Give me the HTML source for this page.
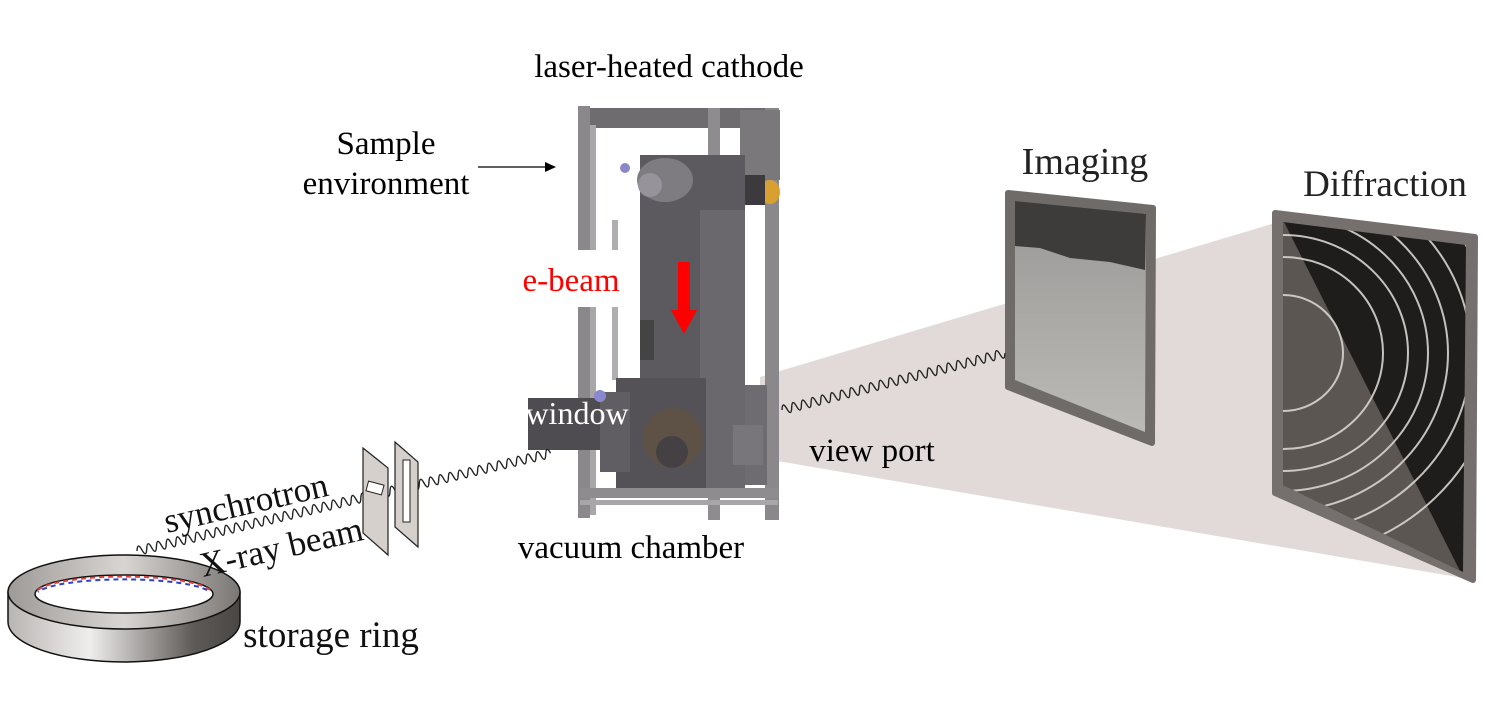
<!DOCTYPE html>
<html><head><meta charset="utf-8"><style>
html,body{margin:0;padding:0;background:#fff;}
svg{display:block;}
text{font-family:"Liberation Serif",serif;}
</style></head><body>
<svg width="1486" height="726" viewBox="0 0 1486 726" xmlns="http://www.w3.org/2000/svg">
<defs>
<linearGradient id="ringside" x1="0" x2="1">
<stop offset="0" stop-color="#b8b4b2"/><stop offset="0.35" stop-color="#f0eeed"/><stop offset="0.8" stop-color="#5e5a58"/><stop offset="1" stop-color="#4a4644"/>
</linearGradient>
<linearGradient id="ringtop" x1="0" x2="1">
<stop offset="0" stop-color="#9e9a98"/><stop offset="0.5" stop-color="#d8d5d3"/><stop offset="1" stop-color="#7a7674"/>
</linearGradient>
<linearGradient id="img" x1="0" y1="0" x2="0" y2="1">
<stop offset="0" stop-color="#9a9896"/><stop offset="1" stop-color="#bcbab6"/>
</linearGradient>
<clipPath id="dclip"><polygon points="1283,222 1466,245 1463,572 1283,485"/></clipPath>
</defs>

<!-- cone -->
<polygon points="760,377 1275,223 1463,578 760,458" fill="#ddd4d2" opacity="0.85"/>

<!-- imaging plate -->
<polygon points="1008,193 1153,208 1152,443 1008,387" fill="#6f6b69" stroke="#6f6b69" stroke-width="6" stroke-linejoin="round"/>
<polygon points="1015,201 1146,214 1145,432 1015,380" fill="url(#img)"/>
<polygon points="1015,201 1146,214 1145,270 1110,262 1070,258 1040,248 1015,246" fill="#3e3c3a"/>

<!-- diffraction plate -->
<polygon points="1275,213 1475,237 1473,580 1275,493" fill="#75706e" stroke="#75706e" stroke-width="6" stroke-linejoin="round"/>
<polygon points="1283,222 1466,245 1463,572 1283,485" fill="#1e1d1b"/>
<g clip-path="url(#dclip)">
<polygon points="1283,220 1463,577 1283,577" fill="#5c5652"/>
<g fill="none" stroke="#d8d4d0" stroke-width="2" opacity="0.9">
<ellipse cx="1283" cy="353" rx="60" ry="58"/>
<ellipse cx="1283" cy="353" rx="100" ry="96"/>
<ellipse cx="1283" cy="353" rx="125" ry="118"/>
<ellipse cx="1283" cy="353" rx="145" ry="138"/>
<ellipse cx="1283" cy="353" rx="165" ry="158"/>
<ellipse cx="1283" cy="353" rx="188" ry="180"/>
<ellipse cx="1283" cy="353" rx="215" ry="205"/>
</g>
</g>

<!-- machine -->
<g>
<rect x="578" y="108" width="200" height="20" fill="#6e6c6e"/>
<rect x="578" y="106" width="12" height="412" fill="#8a888a"/>
<rect x="590" y="125" width="6" height="390" fill="#a8a6a8"/>
<rect x="708" y="108" width="12" height="412" fill="#8e8c8e"/>
<rect x="765" y="108" width="14" height="412" fill="#8a888a"/>
<rect x="740" y="110" width="40" height="70" fill="#7a787a"/>
<rect x="640" y="155" width="105" height="340" fill="#5c5a5e"/>
<rect x="700" y="210" width="45" height="285" fill="#6a686c"/>
<ellipse cx="665" cy="180" rx="28" ry="22" fill="#7e7c80"/>
<ellipse cx="650" cy="185" rx="12" ry="12" fill="#96949a"/>
<circle cx="625" cy="168" r="5" fill="#8a88c8"/>
<ellipse cx="770" cy="192" rx="10" ry="12" fill="#d8a030"/>
<rect x="745" y="175" width="20" height="30" fill="#3c3a3c"/>
<rect x="612" y="220" width="6" height="160" fill="#b0aeb0"/>
<rect x="640" y="320" width="14" height="40" fill="#444"/>
<rect x="616" y="378" width="90" height="115" fill="#545256"/>
<rect x="745" y="385" width="22" height="100" fill="#6e6c70"/>
<rect x="733" y="425" width="30" height="40" fill="#78767a"/>
<rect x="528" y="398" width="80" height="52" fill="#4e4c50"/>
<rect x="600" y="392" width="30" height="80" fill="#605e62"/>
<circle cx="600" cy="396" r="6" fill="#8a88d0"/>
<circle cx="673" cy="438" r="30" fill="#5e5246"/>
<circle cx="672" cy="452" r="16" fill="#454044"/>
<rect x="580" y="488" width="198" height="10" fill="#8e8c8e"/>
<rect x="580" y="500" width="198" height="5" fill="#a8a6a8"/>
</g>

<!-- e-beam -->
<rect x="503" y="250" width="134" height="57" fill="#fff"/>
<text x="571" y="291" font-size="33" fill="#f00" text-anchor="middle">e-beam</text>
<rect x="678" y="262" width="12" height="50" fill="#f00"/>
<polygon points="671,310 697,310 684,334" fill="#f00"/>

<!-- waves -->
<g transform="translate(137,551) rotate(-13.3)" fill="none" stroke="#222" stroke-width="1.4">
<path d="M0 0 q2.5 -9 5 0 t5 0 t5 0 t5 0 t5 0 t5 0 t5 0 t5 0 t5 0 t5 0 t5 0 t5 0 t5 0 t5 0 t5 0 t5 0 t5 0 t5 0 t5 0 t5 0 t5 0 t5 0 t5 0 t5 0 t5 0 t5 0 t5 0 t5 0 t5 0 t5 0 t5 0 t5 0 t5 0 t5 0 t5 0 t5 0 t5 0 t5 0 t5 0 t5 0 t5 0 t5 0 t5 0 t5 0 t5 0 t5 0 t5 0 t5 0 t5 0 t5 0 t5 0 t5 0 t5 0 t5 0 t5 0 t5 0 t5 0 t5 0 t5 0 t5 0 t5 0 t5 0 t5 0 t5 0 t5 0 t5 0 t5 0 t5 0 t5 0 t5 0 t5 0 t5 0 t5 0 t5 0 t5 0 t5 0 t5 0 t5 0 t5 0 t5 0 t5 0 t5 0 t5 0 t5 0 t5 0"/>
</g>
<g transform="translate(782,410) rotate(-14.3)" fill="none" stroke="#222" stroke-width="1.4">
<path d="M0 0 q2.5 -9 5 0 t5 0 t5 0 t5 0 t5 0 t5 0 t5 0 t5 0 t5 0 t5 0 t5 0 t5 0 t5 0 t5 0 t5 0 t5 0 t5 0 t5 0 t5 0 t5 0 t5 0 t5 0 t5 0 t5 0 t5 0 t5 0 t5 0 t5 0 t5 0 t5 0 t5 0 t5 0 t5 0 t5 0 t5 0 t5 0 t5 0 t5 0 t5 0 t5 0 t5 0 t5 0 t5 0 t5 0 t5 0 t5 0"/>
</g>

<!-- slits -->
<polygon points="363,448 388,468 388,555 363,533" fill="#d6d0cc" stroke="#222" stroke-width="1.2"/>
<rect x="367" y="483" width="16" height="10" fill="#fff" stroke="#222" stroke-width="1" transform="rotate(15 375 488)"/>
<polygon points="395,442 418,462 418,547 395,527" fill="#d6d0cc" stroke="#222" stroke-width="1.2"/>
<rect x="403" y="460" width="7" height="62" fill="#fff" stroke="#222" stroke-width="1"/>

<!-- storage ring -->
<path d="M8 592 L8 622 A116 40 0 0 0 240 622 L240 592 Z" fill="url(#ringside)" stroke="#111" stroke-width="1.5"/>
<ellipse cx="124" cy="592" rx="116" ry="37" fill="url(#ringtop)" stroke="#111" stroke-width="1.5"/>
<ellipse cx="124" cy="594" rx="89" ry="19" fill="#fff" stroke="#111" stroke-width="1.5"/>
<path d="M38 590 A88 17 0 0 1 210 590" fill="none" stroke="#e04040" stroke-width="2" stroke-dasharray="5 4"/>
<path d="M38 592 A88 16 0 0 1 210 592" fill="none" stroke="#3040c0" stroke-width="2" stroke-dasharray="5 4" stroke-dashoffset="4"/>

<!-- labels -->
<text x="669" y="77" font-size="33" text-anchor="middle">laser-heated cathode</text>
<text x="386" y="154" font-size="33" text-anchor="middle">Sample</text>
<text x="386" y="194" font-size="33" text-anchor="middle">environment</text>
<line x1="478" y1="167" x2="548" y2="167" stroke="#000" stroke-width="1.3"/>
<polygon points="556,167 545,162 545,172" fill="#000"/>
<text x="577" y="424" font-size="32" fill="#fff" text-anchor="middle">window</text>
<text x="872" y="461" font-size="33" text-anchor="middle">view port</text>
<text x="631" y="558" font-size="33" text-anchor="middle">vacuum chamber</text>
<text x="1085" y="174" font-size="38" fill="#222" text-anchor="middle">Imaging</text>
<text x="1385" y="196" font-size="37" fill="#222" text-anchor="middle">Diffraction</text>
<text x="331" y="647" font-size="37" fill="#111" text-anchor="middle">storage ring</text>
<text transform="translate(167,533) rotate(-13)" font-size="35" fill="#111">synchrotron</text>
<text transform="translate(203,577) rotate(-13)" font-size="35" fill="#111">X-ray beam</text>
</svg>
</body></html>
